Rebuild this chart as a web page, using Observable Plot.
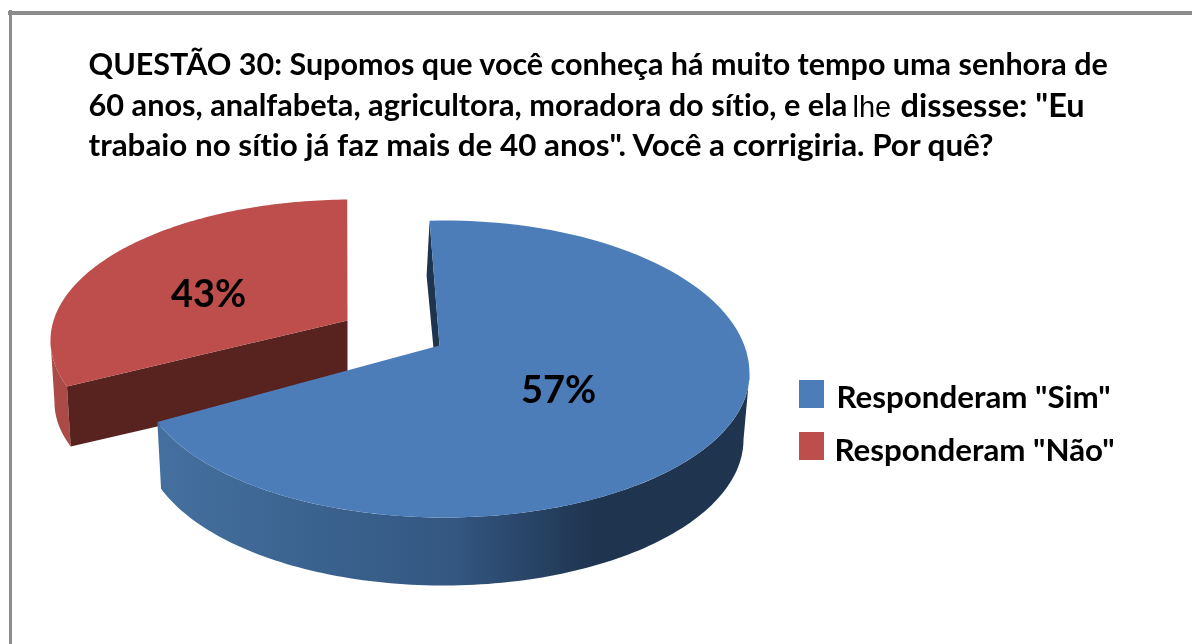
<!DOCTYPE html>
<html><head><meta charset="utf-8">
<script src="https://cdn.jsdelivr.net/npm/d3@7"></script>
<script src="https://cdn.jsdelivr.net/npm/@observablehq/plot@0.6"></script>
<style>
html,body{margin:0;padding:0;background:#fff;overflow:hidden}
svg{display:block;filter:blur(0.5px)}
svg text{font-variant-ligatures:none}
</style></head><body><div id="chart"></div>
<script>
const categories = ['Responderam "Sim"', 'Responderam "Não"'];
const shares = [57, 43];
const shareLabels = ["57%", "43%"];
// Where each slice begins and ends on the drawn rim (degrees clockwise from top)
const sliceStart = [-2.8, 251];
const sliceEnd = [250.3, 359];
const titleLines = [
  "QUESTÃO 30: Supomos que você conheça há muito tempo uma senhora de",
  "60 anos, analfabeta, agricultora, moradora do sítio, e ela",
  "dissesse: \"Eu",
  "trabaio no sítio já faz mais de 40 anos\". Você a corrigiria. Por quê?"
];
const insertedWord = "lhe";
const colors = ["#4c7db9", "#bd4e4b"];

const rad = Math.PI / 180;
// rim point of an ellipse with separate upper and lower half-heights
const rim = (e, t) => {
  const c = Math.cos(t * rad);
  return {x: e.cx + e.rx * Math.sin(t * rad), y: e.cy - (c > 0 ? e.top : e.bottom) * c};
};
const arc = (e, a, b) => d3.range(0, 121).map(i => rim(e, a + (b - a) * i / 120));

const blueTop = {cx: 444, cy: 373, rx: 305, top: 153, bottom: 144};
const blueLow = {cx: 443, cy: 439, rx: 300, top: 146, bottom: 146};
const redTop  = {cx: 352, cy: 340, rx: 302, top: 141, bottom: 141};
const redLow  = {cx: 352, cy: 402, rx: 298, top: 135, bottom: 135};
const blueApex = {x: 439, y: 345};
const redApex = {x: 347, y: 320};

const blueFace = [blueApex, ...arc(blueTop, sliceStart[0], sliceEnd[0])];
const blueSide = [...arc(blueTop, 90, sliceEnd[0]), ...arc(blueLow, sliceEnd[0], 90)];
const s0 = rim(blueTop, sliceStart[0]);
const blueCut = [s0, {x: s0.x - 3, y: s0.y + 55}, {x: blueApex.x, y: blueApex.y + 66}, blueApex];
const redFace = [redApex, ...arc(redTop, sliceStart[1], sliceEnd[1])];
const redSide = [...arc(redTop, sliceStart[1], 270), ...arc(redLow, 270, sliceStart[1])];
const r0 = rim(redTop, sliceStart[1]);
const r1 = rim(redLow, sliceStart[1]);
const redCut = [redApex, r0, r1, {x: redApex.x, y: redApex.y + 62}];

const poly = (pts, fill) => Plot.line(pts, {x: "x", y: "y", fill, stroke: "none"});
const font = "Lato, 'Open Sans', sans-serif";
const titleStyle = {textAnchor: "start", fontFamily: font, fontWeight: 700, fontSize: 30.5, fill: "#000", lineAnchor: "middle"};
const legendStyle = {textAnchor: "start", fontFamily: font, fontWeight: 700, fontSize: 31.3, fill: "#000", lineAnchor: "middle"};

const defs = () => {
  const ns = "http://www.w3.org/2000/svg";
  const d = document.createElementNS(ns, "defs");
  const g = document.createElementNS(ns, "linearGradient");
  g.setAttribute("id", "blueSideGrad");
  g.setAttribute("x1", "0"); g.setAttribute("x2", "1"); g.setAttribute("y1", "0"); g.setAttribute("y2", "0");
  [["0", "#44709f"], ["0.5", "#335781"], ["0.74", "#1f344f"], ["1", "#1f344f"]].forEach(([o, c]) => {
    const s = document.createElementNS(ns, "stop");
    s.setAttribute("offset", o); s.setAttribute("stop-color", c);
    g.appendChild(s);
  });
  d.appendChild(g);
  return d;
};

const chart = Plot.plot({
  width: 1192, height: 644,
  margin: 0,
  style: {background: "#fff"},
  x: {domain: [0, 1192], range: [0, 1192], axis: null},
  y: {domain: [0, 644], range: [0, 644], axis: null},
  marks: [
    defs,
    Plot.ruleY([12.5], {x1: 8, x2: 1192, stroke: "#8c8c8c", strokeWidth: 4}),
    Plot.ruleX([10], {y1: 10, y2: 644, stroke: "#8c8c8c", strokeWidth: 3}),
    poly(redSide, "#ab4b48"),
    poly(redCut, "#58221f"),
    poly(redFace, colors[1]),
    poly(blueCut, "#1f344f"),
    poly(blueSide, "url(#blueSideGrad)"),
    poly(blueFace, colors[0]),
    Plot.text([titleLines[0]], {x: 88, y: 65, text: d => d, ...titleStyle}),
    Plot.text([titleLines[1]], {x: 88, y: 106, text: d => d, ...titleStyle, fontSize: 30.7}),
    Plot.text([insertedWord], {x: 852, y: 107, text: d => d, ...titleStyle, fontWeight: 400, fontFamily: "'Liberation Sans'", fontSize: 29}),
    Plot.text([titleLines[2]], {x: 900, y: 106, text: d => d, ...titleStyle, fontSize: 32.5}),
    Plot.text([titleLines[3]], {x: 88, y: 145, text: d => d, ...titleStyle, fontSize: 31.4}),
    Plot.text([shareLabels[0]], {x: 558, y: 390, text: d => d, fontFamily: font, fontWeight: 700, fontSize: 38, fill: "#000"}),
    Plot.text([shareLabels[1]], {x: 208, y: 294, text: d => d, fontFamily: font, fontWeight: 700, fontSize: 38, fill: "#000"}),
    Plot.rect([0], {x1: 799, x2: 824, y1: 380, y2: 408, fill: colors[0]}),
    Plot.rect([1], {x1: 799, x2: 824, y1: 432, y2: 460, fill: colors[1]}),
    Plot.text([categories[0]], {x: 836, y: 397, text: d => d, ...legendStyle}),
    Plot.text([categories[1]], {x: 834, y: 450, text: d => d, ...legendStyle})
  ]
});
document.getElementById("chart").appendChild(chart);
</script></body></html>
